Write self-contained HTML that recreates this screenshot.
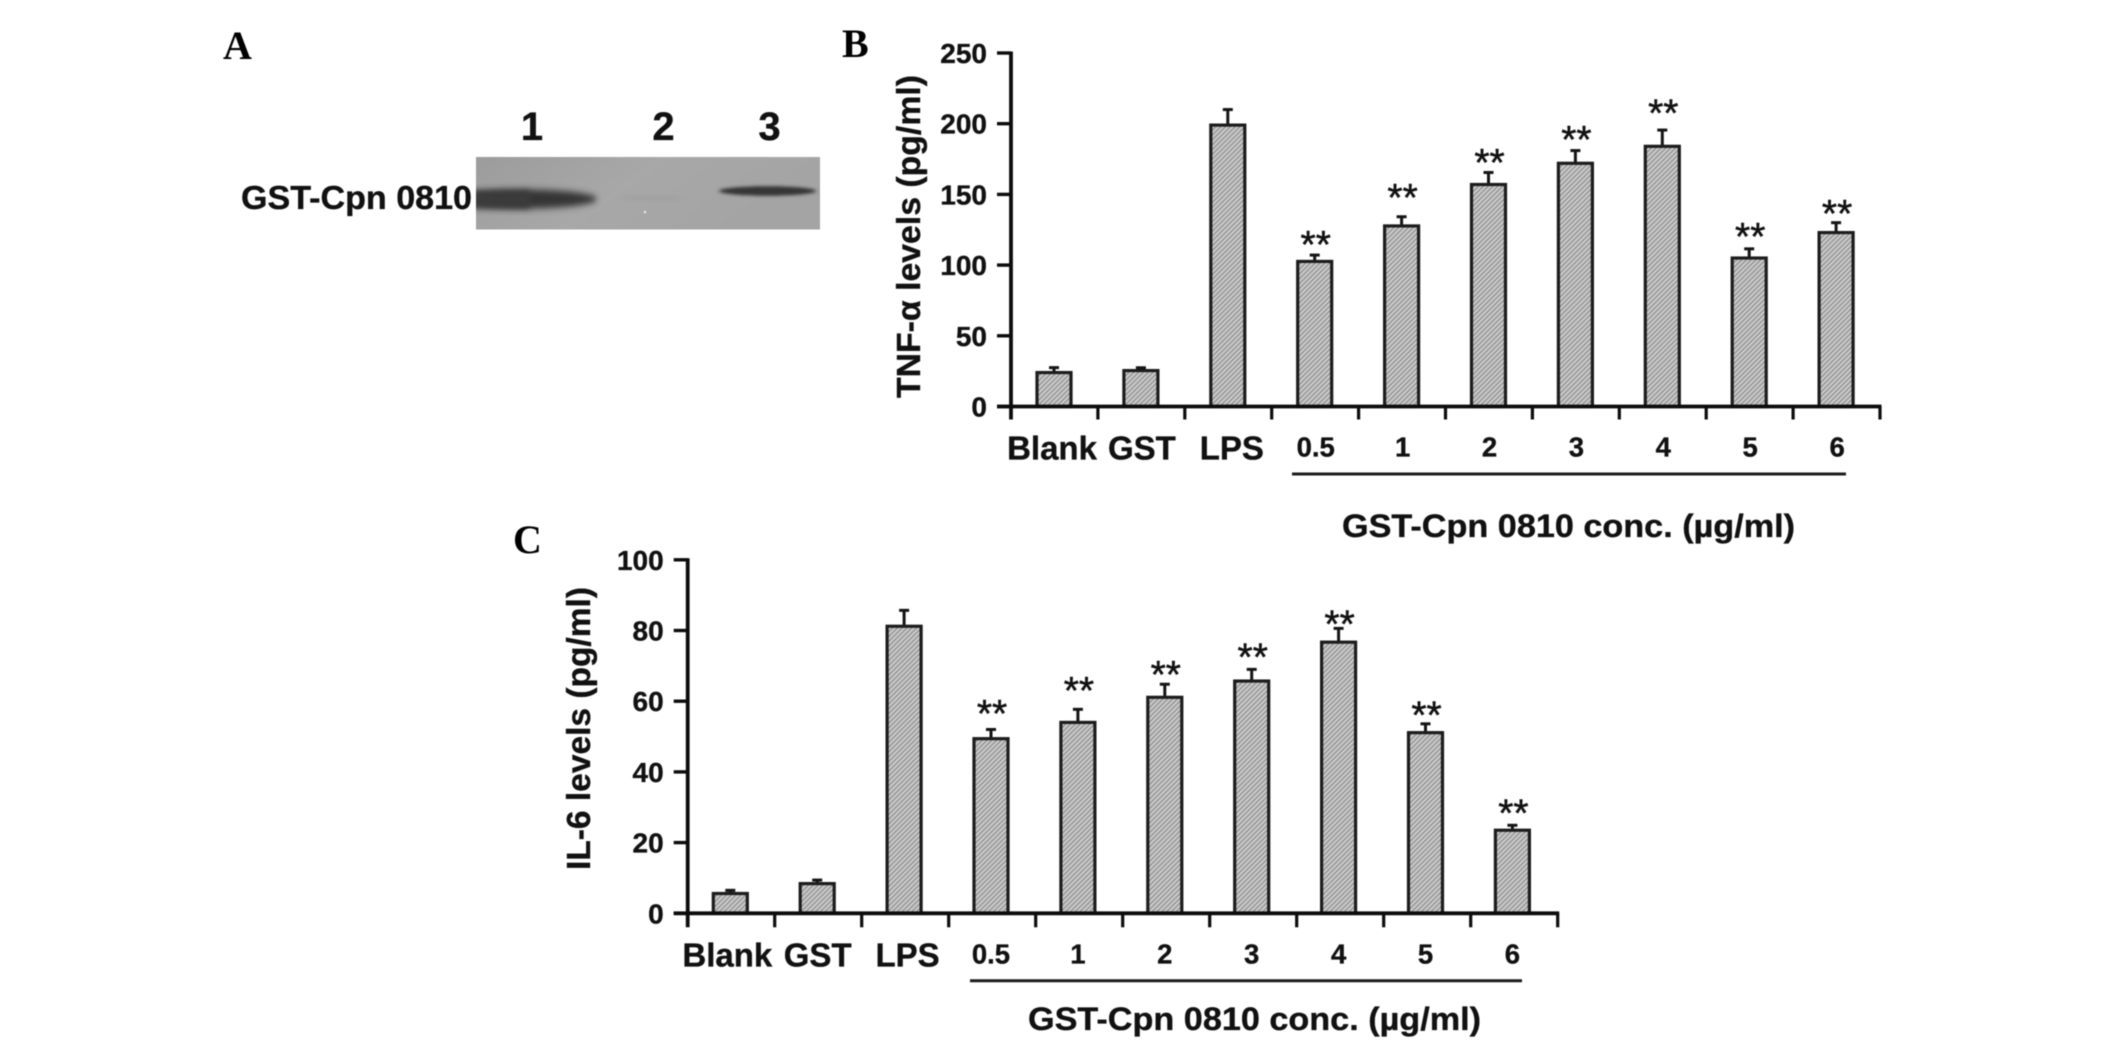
<!DOCTYPE html>
<html>
<head>
<meta charset="utf-8">
<title>GST-Cpn 0810 figure</title>
<style>
html,body{margin:0;padding:0;background:#fff;width:2126px;height:1043px;overflow:hidden}
svg{display:block}
#ink{filter:blur(.65px)}
text{font-family:"Liberation Sans",sans-serif;font-weight:bold;fill:#111;stroke:#111;stroke-width:.35}
.panel{font-family:"Liberation Serif",serif;font-size:40px;fill:#000;stroke:none}
</style>
</head>
<body>
<svg id="figure" width="2126" height="1043" viewBox="0 0 2126 1043" xmlns="http://www.w3.org/2000/svg">
<defs>
<pattern id="hatch" width="3.4" height="3.4" patternUnits="userSpaceOnUse" patternTransform="rotate(45)">
<rect width="3.4" height="3.4" fill="#cdcdcd"/>
<rect width="1.5" height="3.4" fill="#959595"/>
</pattern>
<filter id="soft1" x="-20%" y="-100%" width="140%" height="300%"><feGaussianBlur stdDeviation="3 3.4"/></filter>
<filter id="soft2" x="-20%" y="-100%" width="140%" height="300%"><feGaussianBlur stdDeviation="2.2 1.7"/></filter>
<filter id="soft3" x="-20%" y="-200%" width="140%" height="500%"><feGaussianBlur stdDeviation="6 2"/></filter>
<linearGradient id="gelbg" x1="0" y1="0" x2="1" y2="0.3">
<stop offset="0" stop-color="#9c9c9c"/><stop offset=".5" stop-color="#a8a8a8"/><stop offset="1" stop-color="#a4a4a4"/>
</linearGradient>
<clipPath id="gelclip"><rect x="476" y="157" width="344" height="72.5"/></clipPath>
</defs>
<g id="ink">
<text class="panel" x="223" y="59">A</text>
<text class="panel" x="842" y="57">B</text>
<text class="panel" x="513" y="553">C</text>

<g>
<text x="532" y="140" font-size="40" text-anchor="middle">1</text>
<text x="663.5" y="140" font-size="40" text-anchor="middle">2</text>
<text x="769.5" y="140" font-size="40" text-anchor="middle">3</text>
<text x="241" y="209" font-size="33" textLength="231" lengthAdjust="spacingAndGlyphs">GST-Cpn 0810</text>
<rect x="476" y="157" width="344" height="72.5" fill="url(#gelbg)"/>
<g clip-path="url(#gelclip)">
<ellipse cx="525" cy="199" rx="72" ry="9.5" fill="#363636" filter="url(#soft1)"/>
<rect x="470" y="191" width="60" height="17" fill="#3a3a3a" filter="url(#soft1)"/>
<ellipse cx="650" cy="198" rx="34" ry="1.2" fill="#9a9a9a" filter="url(#soft3)"/>
<ellipse cx="767.5" cy="191" rx="48.5" ry="4.8" fill="#353535" filter="url(#soft2)"/>
<circle cx="645" cy="212" r="1.3" fill="#e4e4e4"/>
</g>
</g>

<g id="chart-b"></g>
<g id="chart-c"></g>
</g>
</svg>
<script>
const tnfCategories = ["Blank","GST","LPS","0.5","1","2","3","4","5","6"];
const tnfValues = [24, 25.4, 199, 102.6, 127.7, 157, 172, 184, 105, 123];
const tnfErrors = [3.5, 2, 11, 4.5, 6.5, 8.5, 9, 11.5, 6.5, 7];
const tnfStarLevels = [null, null, null, 119, 152.5, 177, 193.5, 212, 125, 141];
const tnfTicks = [0, 50, 100, 150, 200, 250];

const il6Categories = ["Blank","GST","LPS","0.5","1","2","3","4","5","6"];
const il6Values = [5.6, 8.4, 81.2, 49.4, 54, 61.1, 65.7, 76.7, 51.1, 23.5];
const il6Errors = [0.9, 1, 4.5, 2.6, 3.7, 3.7, 3.3, 3.9, 2.5, 1.4];
const il6StarLevels = [null, null, null, 58.4, 64.9, 69.4, 74.4, 83.7, 58, 30.2];
const il6Ticks = [0, 20, 40, 60, 80, 100];

const SVGNS = "http://www.w3.org/2000/svg";
function mk(parent, tag, attrs, txt) {
  const el = document.createElementNS(SVGNS, tag);
  for (const k in attrs) el.setAttribute(k, attrs[k]);
  if (txt !== undefined) el.textContent = txt;
  parent.appendChild(el);
  return el;
}

function drawChart(o) {
  const g = document.getElementById(o.id);
  const yScale = v => o.y0 - (v / o.yMax) * (o.y0 - o.yTop);
  const xBand = i => o.barStart + i * o.barStep;
  const xTick = i => o.x0 + i * o.tickStep;
  const ink = "#141414";

  o.values.forEach((v, i) => {
    const stem = mk(g, "line", {x1: xBand(i), x2: xBand(i), y1: yScale(v), y2: yScale(v + o.errors[i]), stroke: ink, "stroke-width": 3});
    
    
    const cap = mk(g, "line", {x1: xBand(i) - 5, x2: xBand(i) + 5, y1: yScale(v + o.errors[i]), y2: yScale(v + o.errors[i]), stroke: ink, "stroke-width": 3});
    
    
    const bar = mk(g, "rect", {x: xBand(i) - 17, y: yScale(v), width: 34, height: o.y0 - yScale(v), fill: "url(#hatch)", stroke: "#1c1c1c", "stroke-width": 3.2});
    
    
    if (o.stars[i] !== null) {
      const star = mk(g, "text", {x: xBand(i) + 1, y: yScale(o.stars[i]) + 20, "text-anchor": "middle", "font-size": 39, style: "font-weight:normal;stroke-width:.5"}, "**");
      
      
    }
  });

  const yAxis = mk(g, "line", {x1: o.x0, x2: o.x0, y1: o.yTop - 1.5, y2: o.y0 + o.tickLen, stroke: "#0c0c0c", "stroke-width": 3.8});
  
  
  const xAxis = mk(g, "line", {x1: o.x0 - 14, x2: xTick(o.values.length) + 1.5, y1: o.y0, y2: o.y0, stroke: "#0c0c0c", "stroke-width": 3.8});
  
  

  o.ticks.forEach(t => {
    const tick = mk(g, "line", {x1: o.x0 - 14, x2: o.x0, y1: yScale(t), y2: yScale(t), stroke: "#0c0c0c", "stroke-width": 3.4});
    
    
    const lab = mk(g, "text", {x: o.x0 - 24, y: yScale(t) + 10, "text-anchor": "end", "font-size": 28}, String(t));
    
    
  });

  for (let i = 1; i <= o.values.length; i++) {
    const tick = mk(g, "line", {x1: xTick(i), x2: xTick(i), y1: o.y0, y2: o.y0 + o.tickLen, stroke: "#0c0c0c", "stroke-width": 3.2});
    
    
  }

  o.categories.forEach((c, i) => {
    const isWord = i < 3;
    const lab = mk(g, "text", {
      x: xBand(i) + (isWord ? o.wordShift[i] : o.digitShift),
      y: o.y0 + (isWord ? 53 : 50),
      "text-anchor": "middle",
      "font-size": isWord ? 33 : 27.5
    }, c);
    
    
  });

  const under = mk(g, "line", {x1: o.underline[0], x2: o.underline[1], y1: o.y0 + 67.5, y2: o.y0 + 67.5, stroke: "#1c1c1c", "stroke-width": 3});
  
  

  const xt = mk(g, "text", {x: o.xTitle[0], y: o.xTitle[1], "font-size": 32, textLength: 453, lengthAdjust: "spacingAndGlyphs"}, "GST-Cpn 0810 conc. (µg/ml)");
  
  

  const yt = mk(g, "text", {
    transform: "translate(" + o.yTitle[0] + "," + o.yTitle[1] + ") rotate(-90)",
    "font-size": 33, textLength: o.yTitle[2], lengthAdjust: "spacingAndGlyphs"
  }, o.yLabel);
  
  
}

drawChart({
  id: "chart-b", categories: tnfCategories, values: tnfValues, errors: tnfErrors, stars: tnfStarLevels, ticks: tnfTicks,
  yMax: 250, y0: 406.5, yTop: 53, x0: 1011, tickStep: 86.9, tickLen: 13,
  barStart: 1054, barStep: 86.9, wordShift: [-2, 1, 4], digitShift: 1,
  underline: [1292, 1846], xTitle: [1342, 537],
  yLabel: "TNF-α levels (pg/ml)", yTitle: [920, 398, 323]
});
drawChart({
  id: "chart-c", categories: il6Categories, values: il6Values, errors: il6Errors, stars: il6StarLevels, ticks: il6Ticks,
  yMax: 100, y0: 913.3, yTop: 559.8, x0: 687.7, tickStep: 87, tickLen: 14,
  barStart: 730.3, barStep: 86.9, wordShift: [-3, 0.5, 3.5], digitShift: 0,
  underline: [970, 1522], xTitle: [1028, 1030],
  yLabel: "IL-6 levels (pg/ml)", yTitle: [590, 870, 283]
});
</script>
</body>
</html>
